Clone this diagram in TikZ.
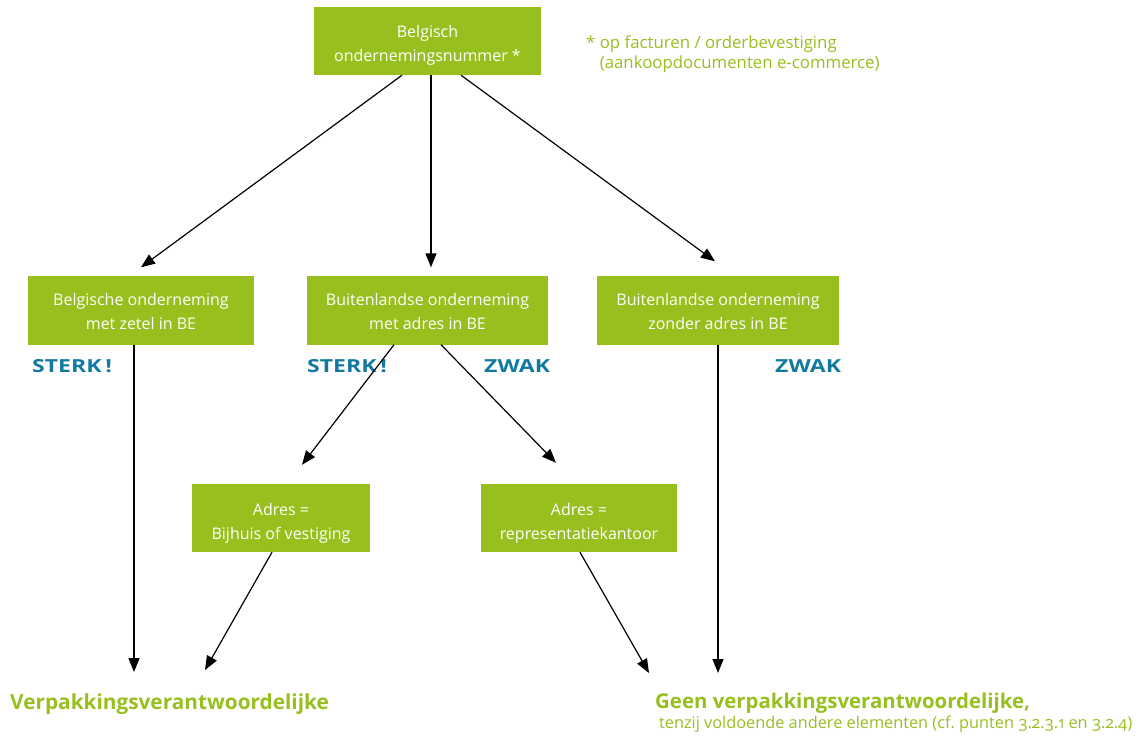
\documentclass[tikz,border=0pt]{standalone}
\usepackage{fontspec}
\setmainfont{Open Sans}
\usetikzlibrary{arrows.meta}
\definecolor{lgreen}{RGB}{151,191,30}
\definecolor{sblue}{RGB}{18,122,160}
\newcommand{\lowerby}[1]{\rule{0pt}{\dimexpr 12pt+2\dimexpr #1\relax\relax}}
\begin{document}
\frenchspacing
\begin{tikzpicture}[x=1pt,y=-1pt,
 box/.style={fill=lgreen, text=white, minimum width=#1, minimum height=68pt, align=center, inner sep=0pt, font=\fontsize{16}{24}\selectfont},
 arr/.style={-{Triangle[length=14pt,width=11pt]}, line width=1.2pt},
 lbl/.style={text=sblue, font=\fontsize{18}{20}\selectfont\bfseries, anchor=west, inner sep=0pt},
 res/.style={text=lgreen, font=\fontsize{20.8}{24}\selectfont\bfseries, anchor=west, inner sep=0pt},
]
\useasboundingbox (0,0) rectangle (1144,738);
\node[box=227pt] (top) at (427.5,41) {\lowerby{4pt}Belgisch\\ondernemingsnummer *};
\node[anchor=north west, text=lgreen, align=left, inner sep=0pt, font=\fontsize{16.8}{20}\selectfont] (note) at (586,35) {* op facturen / orderbevestiging\\\hphantom{* }(aankoopdocumenten e-commerce)};
\node[box=226pt] (B1) at (141,310.5) {\lowerby{1pt}Belgische onderneming\\met zetel in BE};
\node[box=241pt] (B2) at (427.5,310.5) {\lowerby{1pt}Buitenlandse onderneming\\met adres in BE};
\node[box=242pt] (B3) at (718,310.5) {\lowerby{1pt}Buitenlandse onderneming\\zonder adres in BE};
\node[box=178pt] (C1) at (281,518) {\lowerby{5pt}Adres =\\Bijhuis of vestiging};
\node[box=196pt] (C2) at (579,518) {\lowerby{5pt}Adres =\\representatiekantoor};
\node[lbl] (s1) at (32,366) {\scalebox{1.28}[1]{STERK\,!}};
\node[lbl] (s2) at (307,366) {\scalebox{1.28}[1]{STERK\,!}};
\node[lbl] (z1) at (484,366) {\scalebox{1.28}[1]{ZWAK}};
\node[lbl] (z2) at (775,366) {\scalebox{1.28}[1]{ZWAK}};
\node[res] (V) at (10,704) {Verpakkingsverantwoordelijke};
\node[res, font=\fontsize{20.4}{24}\selectfont\bfseries] (G) at (655,703) {Geen verpakkingsverantwoordelijke,};
\node[text=lgreen, anchor=west, inner sep=0pt, font=\fontsize{16.3}{18}\selectfont\addfontfeatures{Numbers=OldStyle}] (T) at (659,724) {tenzij voldoende andere elementen (cf. punten 3.2.3.1 en 3.2.4)};
\coordinate (v1) at (134,672);
\coordinate (v2) at (205,670);
\coordinate (g1) at (649,673);
\coordinate (g2) at (718,673);
\draw[arr] ([xshift=-25.5pt]top.south) -- ([yshift=9pt]B1.north);
\draw[arr] ([xshift=3.5pt]top.south) -- ([xshift=3.5pt,yshift=9pt]B2.north);
\draw[arr] ([xshift=33.5pt]top.south) -- ([xshift=-3pt,yshift=15pt]B3.north);
\draw[arr] ([xshift=-7pt]B1.south) -- (v1);
\draw[arr] ([xshift=-33.5pt]B2.south) -- ([xshift=21pt,yshift=19pt]C1.north);
\draw[arr] ([xshift=13.5pt]B2.south) -- ([xshift=-23pt,yshift=21pt]C2.north);
\draw[arr] ([xshift=-9pt]C1.south) -- (v2);
\draw[arr] ([xshift=1pt]C2.south) -- (g1);
\draw[arr] (B3.south) -- (g2);
\end{tikzpicture}
\end{document}
